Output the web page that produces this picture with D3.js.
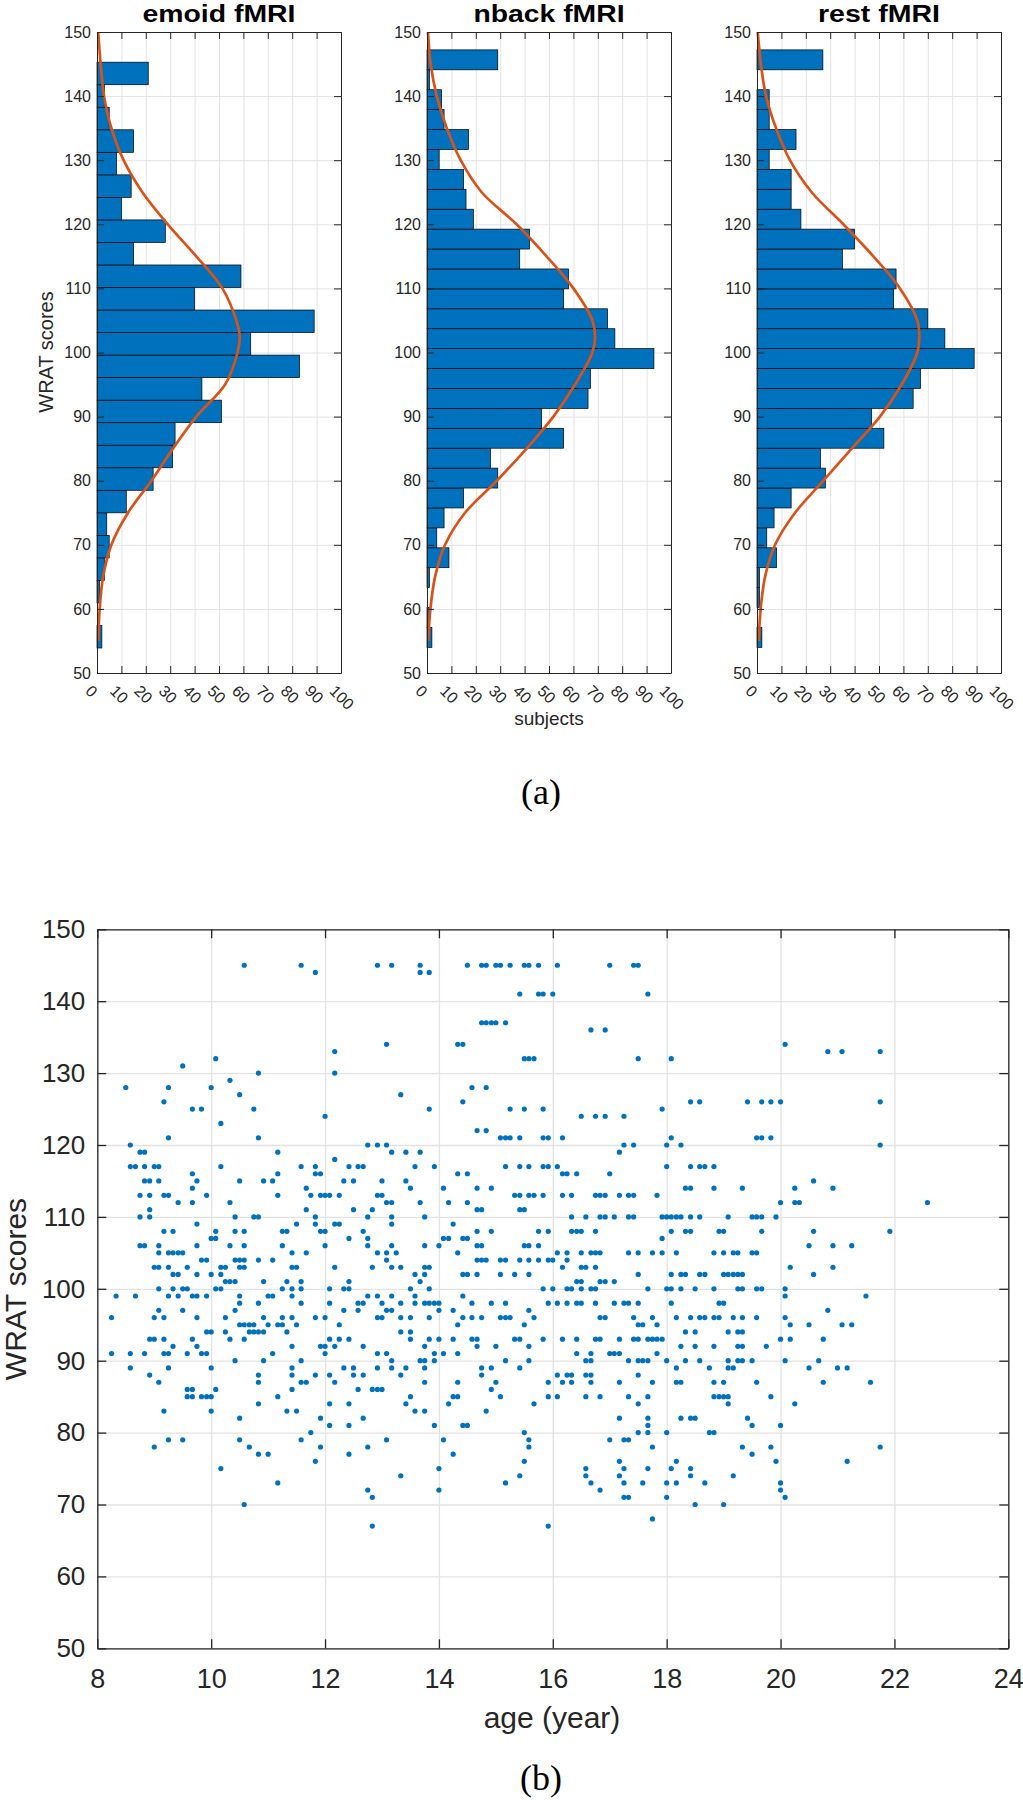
<!DOCTYPE html>
<html><head><meta charset="utf-8">
<script src="https://cdn.jsdelivr.net/npm/d3@7"></script>
<style>
body{margin:0;background:#fff}
svg{display:block}
text{font-family:"Liberation Sans",Arial,Helvetica,sans-serif}
text.serif{font-family:"Liberation Serif","Times New Roman",serif}
</style>
</head><body>
<svg id="chart" width="1023" height="1800"></svg>
<script>
// ---------- DATA ----------
const panelTitles = ["emoid fMRI", "nback fMRI", "rest fMRI"];
const binStarts = [53.9, 54.0, 54.0];
const binWidths = [3.515, 3.107, 3.107];
// counts per bin, from lowest score bin upward
const emoidCounts = [2,0,1,3,5,4,12,23,31,32,51,43,83,63,89,40,59,15,28,10,14,8,15,5,3,21];
const nbackCounts = [2,1,0,1,9,4,7,15,29,26,56,47,66,67,93,77,74,56,58,38,42,19,16,15,5,17,7,6,1,29];
const restCounts  = [2,0,1,1,8,4,7,14,28,26,52,47,64,67,89,77,70,56,57,35,40,18,14,14,5,16,5,5,0,27];
// fitted normal curve (score -> subjects)
const fitScores = [55,60,65,70,75,80,85,90,95,100,102.5,105,110,115,120,125,130,135,140,145,150];
const emoidFit = [0.5,1.1,2.5,5.9,12.7,22.3,31.1,40.7,52.5,57.6,58.5,57.1,51.4,40.7,29.0,18.6,10.9,5.9,2.9,1.5,0.5];
const nbackFit = [0.5,1.4,3.3,7.4,15.6,28.6,40.8,51.8,60.7,67.8,68.9,67.8,60.0,49.0,36.7,22.4,13.8,8.1,4.0,1.5,0.4];
const restFit  = [0.7,1.5,3.3,7.4,15.6,27.2,38.8,50.4,59.3,65.7,66.5,65.7,58.6,47.7,35.4,22.4,13.5,7.8,3.7,1.6,0.3];
const histXTicks = [0,10,20,30,40,50,60,70,80,90,100];
const histYTicks = [50,60,70,80,90,100,110,120,130,140,150];
const scatterXTicks = [8,10,12,14,16,18,20,22,24];
const scatterYTicks = [50,60,70,80,90,100,110,120,130,140,150];
// scatter: [WRAT score, ages (year)]
const scatterRows = [
[145,[10.58,11.58,12.92,13.17,13.67,14.5,14.75,14.83,15.0,15.08,15.25,15.5,15.58,15.75,16.08,17.0,17.42,17.5]],
[144,[11.83,13.67,13.83]],
[141,[15.42,15.75,15.83,16.0,17.67]],
[137,[14.75,14.83,14.92,15.0,15.17]],
[136,[16.67,16.92]],
[134,[13.08,14.33,14.42,20.08]],
[133,[12.17,20.83,21.08,21.75]],
[132,[10.08,15.5,15.58,15.67,17.5,18.08]],
[131,[9.5]],
[130,[10.83,12.17]],
[129,[10.33]],
[128,[8.5,9.25,10.0,14.58,14.83]],
[127,[10.5,13.33]],
[126,[9.17,14.42,18.42,18.58,19.42,19.67,19.83,20.0,21.75]],
[125,[9.67,9.83,10.75,13.83,15.25,15.5,15.83,17.92]],
[124,[12.0,16.5,16.75,16.92,17.25]],
[123,[10.17]],
[122,[14.67,14.83]],
[121,[9.25,10.83,15.08,15.17,15.25,15.42,15.83,15.92,16.17,18.08,19.58,19.67,19.83]],
[120,[8.58,12.75,12.92,13.08,17.25,17.42,18.0,18.25,21.75]],
[119,[8.75,8.83,11.17,13.17,13.42,13.67,17.17]],
[118,[12.17]],
[117,[8.58,8.67,8.83,9.0,9.08,10.17,11.58,11.83,12.42,12.58,12.67,13.58,13.92,15.17,15.42,15.58,15.83,15.92,16.08,18.0,18.42,18.58,18.67,18.83]],
[116,[9.67,11.17,11.83,11.92,14.33,14.5,16.17,16.25,16.42,17.0]],
[115,[8.83,8.92,9.08,9.75,10.5,10.92,11.08,12.33,12.5,13.0,13.42,20.58]],
[114,[9.67,11.67,13.5,14.08,14.67,14.92,18.33,18.42,18.83,19.33,20.25,20.92]],
[113,[8.75,8.92,9.17,9.25,9.92,11.17,11.75,11.92,12.0,12.08,12.25,12.92,13.0,15.33,15.42,15.58,15.67,15.83,16.17,16.33,16.75,16.83,16.92,17.17,17.33,17.42,17.83]],
[112,[9.42,9.67,10.33,13.08,13.17,13.67,14.17,14.5,20.0,20.25,20.33,22.58]],
[111,[8.92,11.67,12.5,12.83,14.67,14.75,15.42,15.5]],
[110,[8.75,8.92,10.42,10.75,10.83,11.83,12.75,13.17,13.75,16.33,16.58,16.83,16.92,17.08,17.33,17.42,17.92,18.0,18.08,18.17,18.25,18.42,18.58,19.08,19.5,19.58,19.67,19.92]],
[109,[9.75,11.5,11.83,12.17,12.25,13.17,14.25]],
[108,[9.17,9.33,10.08,10.42,10.58,11.25,11.33,11.92,12.0,12.67,14.67,14.92,15.75,15.92,16.33,16.42,16.5,16.75,18.08,18.33,18.42,18.92,19.0,19.67,20.58,21.92]],
[107,[10.0,10.08,12.42,12.75,14.08,14.17,14.42,14.5,17.92]],
[106,[8.75,8.83,9.08,9.75,10.33,10.58,11.25,12.0,12.75,13.17,13.75,14.0,14.67,14.75,15.5,15.58,15.75,20.5,20.92,21.25]],
[105,[9.08,9.25,9.33,9.42,9.5,11.42,11.67,12.92,13.08,13.25,14.33,16.08,16.25,16.5,16.67,16.75,16.83,17.33,17.5,17.75,17.92,18.17,18.83,19.0,19.17,19.25,19.5,19.58]],
[104,[9.83,9.92,10.42,10.5,10.58,10.83,11.08,13.08,14.67,14.75,14.83,15.08,15.17,15.42,15.58,15.75,15.92,16.0,16.25]],
[103,[9.0,9.08,9.25,9.58,10.17,10.25,10.5,10.58,11.42,11.5,12.17,12.83,13.17,13.33,13.75,13.83,16.17,16.5,16.58,16.75,20.17,20.92]],
[102,[9.33,9.42,9.75,10.0,10.17,13.58,13.75,14.42,14.5,14.67,15.08,15.33,15.58,17.5,18.08,18.25,18.33,18.58,18.67,19.0,19.08,19.17,19.25,19.33,20.58]],
[101,[10.25,10.33,10.42,10.92,11.33,11.58,12.42,13.67,16.42,16.5,16.83,16.92,17.08]],
[100,[9.08,9.33,9.5,9.58,10.08,10.17,11.25,11.42,11.58,12.08,12.33,12.42,13.5,13.83,15.83,16.0,16.25,16.33,16.5,16.67,16.75,17.67,18.0,18.08,18.25,18.5,18.83,19.25,19.33,19.58,19.67,20.08]],
[99,[8.33,8.67,9.25,9.42,9.67,9.75,9.92,10.5,11.0,11.08,11.42,12.75,12.92,13.17,13.58,14.42,20.08,21.5]],
[98,[10.5,10.83,11.58,12.08,12.58,12.67,13.0,13.33,13.58,13.75,13.83,13.92,14.0,14.58,14.92,15.17,15.92,16.08,16.25,16.42,16.5,16.75,17.08,17.25,17.33,17.5,18.08,18.92,19.0]],
[97,[9.08,9.5,10.42,12.33,12.58,13.08,13.17,14.0,14.25,15.58,20.83]],
[96,[8.25,9.0,9.17,9.75,10.25,10.92,11.25,11.42,11.83,12.0,12.92,13.0,13.33,13.5,13.83,14.42,14.58,14.75,15.08,15.17,15.25,15.67,16.83,16.92,17.42,17.75,18.17,18.42,18.58,18.67,18.83,18.92,19.17,19.33,19.58,20.08]],
[95,[10.5,10.58,10.67,10.75,11.0,11.17,11.25,11.5,12.25,14.33,15.5,17.5,17.58,17.83,20.17,20.5,21.08,21.25]],
[94,[9.92,10.0,10.25,10.67,10.75,10.83,10.92,11.33,13.33,13.5,18.33,18.5,19.08,19.25,19.33]],
[93,[8.92,9.0,9.17,9.67,10.33,10.58,12.08,12.25,12.42,13.5,13.83,14.0,14.25,14.58,14.67,15.33,15.42,15.83,16.17,16.42,16.75,16.83,17.17,17.42,17.5,17.67,17.75,17.83,17.92,20.0,20.17,20.75]],
[92,[9.33,9.75,11.42,11.92,12.0,12.17,12.67,13.75,14.67,15.0,15.58,18.25,18.5,18.83,19.25,19.33,19.75]],
[91,[8.25,8.58,8.83,9.17,9.25,9.58,9.83,9.92,11.08,12.0,12.92,13.08,13.92,14.08,14.33,16.42,16.67,17.0,17.08,17.17,17.83]],
[90,[10.42,10.92,11.58,13.17,13.67,13.75,13.92,15.17,15.58,16.58,16.67,17.33,17.5,17.58,17.67,18.0,18.33,18.58,19.08,19.25,19.33,19.5,20.08,20.67]],
[89,[8.58,9.25,10.0,11.42,12.33,12.5,12.92,13.17,13.42,13.75,14.75,14.92,15.42,18.17,18.75,19.08,19.17,20.5,21.0,21.17]],
[88,[8.92,10.83,11.42,11.83,12.08,12.5,12.67,13.33,14.75,16.08,16.25,16.33,16.58,16.67,17.5]],
[87,[9.08,10.83,11.58,11.67,12.17,13.75,14.33,15.0,15.92,16.17,16.33,16.67,17.17,17.75,18.17,18.25,18.83,19.0,19.58,20.75,21.58]],
[86,[9.58,9.67,10.08,11.42,12.58,12.83,12.92,13.0,14.92]],
[85,[9.58,9.67,9.83,9.92,10.0,11.17,13.5,14.25,14.33,15.08,15.92,16.08,16.58,16.83,17.33,17.67,18.83,18.92,19.0,19.08,19.83]],
[84,[10.83,12.08,12.42,13.42,14.17,15.67,17.5,19.08,20.25]],
[83,[9.17,10.0,11.33,11.5,13.58,13.75,14.83]],
[82,[10.5,11.92,12.67,17.17,17.67,18.25,18.42,18.5,19.42]],
[81,[12.08,12.42,13.92,14.42,14.5,17.67,19.5,20.0]],
[80,[11.75,15.5,17.5,17.67,18.0,18.75,18.83]],
[79,[9.25,9.5,10.5,11.58,13.08,14.08,15.58,17.0,17.25,17.33]],
[78,[9.0,10.67,11.92,12.75,15.58,17.75,19.33,19.83,21.75]],
[77,[10.83,11.0,12.42,14.25,19.5]],
[76,[11.83,15.5,17.17,18.17,19.92,21.17]],
[75,[10.17,14.0,16.58,17.25,17.67,18.08,18.42]],
[74,[13.33,15.42,16.58,17.17,18.42,19.17]],
[73,[11.17,15.17,16.67,17.25,17.58,18.0,18.17,18.67,20.0]],
[72,[12.75,14.0,16.83,20.0]],
[71,[12.83,17.25,17.33,18.0,20.08]],
[70,[10.58,18.5,19.0]],
[68,[17.75]],
[67,[12.83,15.92]]
];

// ---------- DRAW ----------
const svg = d3.select("#chart");
const BLUE = "#0072BD", ORANGE = "#D95319", AX = "#262626", GRID = "#e3e3e3";

const histCounts = [emoidCounts, nbackCounts, restCounts];
const histFits = [emoidFit, nbackFit, restFit];
const panelLeft = [97, 427, 757];
const titleLen = [153, 151, 122];
const hW = 244, hTop = 32, hBot = 673;
const hy = d3.scaleLinear().domain([50,150]).range([hBot, hTop]);

panelTitles.forEach((title, p) => {
  const x0 = panelLeft[p];
  const hx = d3.scaleLinear().domain([0,100]).range([x0, x0 + hW]);
  const g = svg.append("g");

  // grid
  g.append("g").attr("transform", `translate(0,${hBot})`)
    .call(d3.axisBottom(hx).tickValues(histXTicks).tickSize(-(hBot-hTop)).tickFormat(""))
    .call(s => { s.select(".domain").remove(); s.selectAll("line").attr("stroke", GRID); });
  g.append("g").attr("transform", `translate(${x0},0)`)
    .call(d3.axisLeft(hy).tickValues(histYTicks).tickSize(-hW).tickFormat(""))
    .call(s => { s.select(".domain").remove(); s.selectAll("line").attr("stroke", GRID); });

  // bars
  const counts = histCounts[p];
  const bs = binStarts[p], bw = binWidths[p];
  g.selectAll("rect.bar").data(counts).join("rect")
    .attr("class","bar")
    .attr("x", hx(0))
    .attr("y", (d,i) => hy(bs + (i+1)*bw))
    .attr("width", d => hx(d) - hx(0))
    .attr("height", (d,i) => hy(bs + i*bw) - hy(bs + (i+1)*bw))
    .attr("fill", BLUE).attr("stroke", "#000").attr("stroke-width", 0.7);

  // fitted curve
  const pts = fitScores.map((s,i) => ({s, c: histFits[p][i]}));
  g.append("path").datum(pts)
    .attr("d", d3.line().x(d => hx(d.c)).y(d => hy(d.s)).curve(d3.curveCatmullRom))
    .attr("fill","none").attr("stroke", ORANGE).attr("stroke-width", 2.7);

  // axes
  const styleAx = s => { s.selectAll("path,line").attr("stroke", AX); s.selectAll("text").attr("fill", AX).attr("font-size", 16); };
  g.append("g").attr("transform", `translate(0,${hBot})`)
    .call(d3.axisBottom(hx).tickValues(histXTicks).tickSizeInner(-7).tickSizeOuter(0))
    .call(styleAx)
    .call(s => s.selectAll("text").attr("y",0).attr("dy",null).attr("x",0)
      .attr("text-anchor","start").attr("transform","translate(-13,19) rotate(45)"));
  g.append("g").attr("transform", `translate(0,${hTop})`)
    .call(d3.axisTop(hx).tickValues(histXTicks).tickSizeInner(-7).tickSizeOuter(0).tickFormat(""))
    .call(styleAx);
  g.append("g").attr("transform", `translate(${x0},0)`)
    .call(d3.axisLeft(hy).tickValues(histYTicks).tickSizeInner(-7).tickSizeOuter(0).tickPadding(6))
    .call(styleAx);
  g.append("g").attr("transform", `translate(${x0+hW},0)`)
    .call(d3.axisRight(hy).tickValues(histYTicks).tickSizeInner(-7).tickSizeOuter(0).tickFormat(""))
    .call(styleAx);

  // title
  g.append("text").attr("x", x0 + hW/2).attr("y", 22)
    .attr("text-anchor","middle").attr("font-weight","bold").attr("font-size", 23)
    .attr("textLength", titleLen[p]).attr("lengthAdjust","spacingAndGlyphs")
    .attr("fill","#000").text(title);
});

svg.append("text").attr("transform","translate(53,352) rotate(-90)")
  .attr("text-anchor","middle").attr("font-size",20).attr("fill",AX).text("WRAT scores");
svg.append("text").attr("x", 549).attr("y", 725)
  .attr("text-anchor","middle").attr("font-size",19).attr("fill",AX).text("subjects");
svg.append("text").attr("class","serif").attr("x", 541).attr("y", 804)
  .attr("text-anchor","middle").attr("font-size",36).attr("fill","#000").text("(a)");

// ---------- SCATTER ----------
const sL = 97.3, sR = 1008.3, sT = 929.3, sB = 1648.3;
const sx = d3.scaleLinear().domain([8,24]).range([sL, sR]);
const sy = d3.scaleLinear().domain([50,150]).range([sB, sT]);
const sg = svg.append("g");

sg.append("g").attr("transform", `translate(0,${sB})`)
  .call(d3.axisBottom(sx).tickValues(scatterXTicks).tickSize(-(sB-sT)).tickFormat(""))
  .call(s => { s.select(".domain").remove(); s.selectAll("line").attr("stroke", GRID).attr("stroke-width",1.3); });
sg.append("g").attr("transform", `translate(${sL},0)`)
  .call(d3.axisLeft(sy).tickValues(scatterYTicks).tickSize(-(sR-sL)).tickFormat(""))
  .call(s => { s.select(".domain").remove(); s.selectAll("line").attr("stroke", GRID).attr("stroke-width",1.3); });

const points = scatterRows.flatMap(([score, ages]) => ages.map(a => ({a, score})));
sg.selectAll("circle").data(points).join("circle")
  .attr("cx", d => sx(d.a)).attr("cy", d => sy(d.score)).attr("r", 2.6).attr("fill", BLUE);

const styleS = s => { s.selectAll("path,line").attr("stroke", AX).attr("stroke-width",1.3); s.selectAll("text").attr("fill", AX); };
sg.append("g").attr("transform", `translate(0,${sB})`)
  .call(d3.axisBottom(sx).tickValues(scatterXTicks).tickSizeInner(-9).tickSizeOuter(0).tickPadding(21))
  .call(styleS).call(s => s.selectAll("text").attr("font-size",27));
sg.append("g").attr("transform", `translate(0,${sT})`)
  .call(d3.axisTop(sx).tickValues(scatterXTicks).tickSizeInner(-9).tickSizeOuter(0).tickFormat(""))
  .call(styleS);
sg.append("g").attr("transform", `translate(${sL},0)`)
  .call(d3.axisLeft(sy).tickValues(scatterYTicks).tickSizeInner(-9).tickSizeOuter(0).tickPadding(12))
  .call(styleS).call(s => s.selectAll("text").attr("font-size",26));
sg.append("g").attr("transform", `translate(${sR},0)`)
  .call(d3.axisRight(sy).tickValues(scatterYTicks).tickSizeInner(-9).tickSizeOuter(0).tickFormat(""))
  .call(styleS);

svg.append("text").attr("transform","translate(26,1289) rotate(-90)")
  .attr("text-anchor","middle").attr("font-size",30).attr("fill",AX).text("WRAT scores");
svg.append("text").attr("x", 552).attr("y", 1728)
  .attr("text-anchor","middle").attr("font-size",30).attr("fill",AX).text("age (year)");
svg.append("text").attr("class","serif").attr("x", 541).attr("y", 1790)
  .attr("text-anchor","middle").attr("font-size",36).attr("fill","#000").text("(b)");
</script>
</body></html>
